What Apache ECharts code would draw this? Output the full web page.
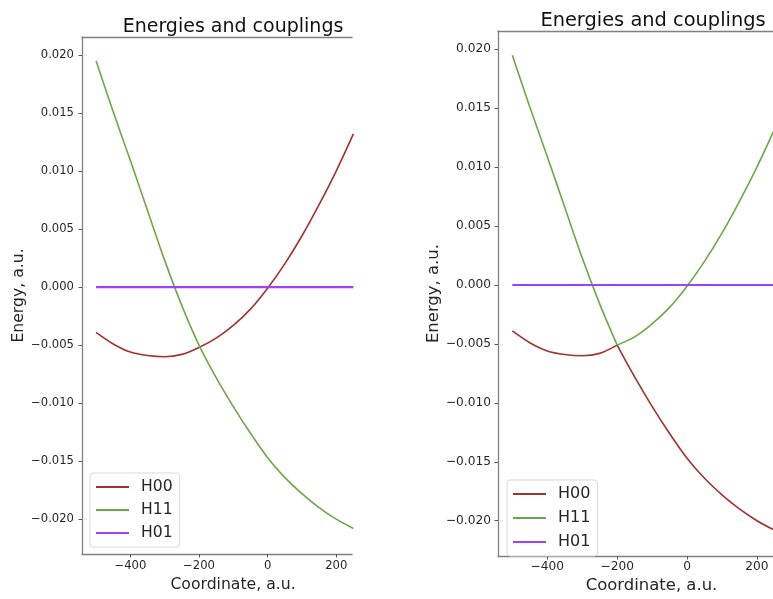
<!DOCTYPE html>
<html>
<head>
<meta charset="utf-8">
<script src="https://cdn.jsdelivr.net/npm/echarts@6/dist/echarts.min.js"></script>
<style>
  html, body { margin: 0; padding: 0; background: #fff; }
  #charts { width: 773px; height: 599px; }
</style>
</head>
<body>
<div id="charts"></div>
<script>
  // coordinate grid, a.u.
  var coords = [-500, -450, -400, -350, -300, -250, -200, -150, -100, -50, 0, 50, 100, 150, 200, 250];

  // left panel: diabatic energies
  var h00Diab = [-0.0039, -0.0049, -0.0056, -0.0059, -0.0060, -0.0058, -0.0052, -0.0044, -0.0033, -0.0019, -0.0001, 0.0020, 0.0044, 0.0071, 0.0100, 0.0132];
  var h11Diab = [0.0195, 0.0151, 0.0109, 0.0066, 0.0023, -0.0016, -0.0050, -0.0078, -0.0103, -0.0126, -0.0147, -0.0164, -0.0178, -0.0190, -0.0200, -0.0208];
  var h01Diab = [0, 0, 0, 0, 0, 0, 0, 0, 0, 0, 0, 0, 0, 0, 0, 0];

  // right panel: adiabatic energies (curves meet at index 6)
  var h00Adi = [-0.0039, -0.0049, -0.0056, -0.0059, -0.0060, -0.0058, -0.0051, -0.0078, -0.0103, -0.0126, -0.0147, -0.0164, -0.0178, -0.0190, -0.0200, -0.0208];
  var h11Adi = [0.0195, 0.0151, 0.0109, 0.0066, 0.0023, -0.0016, -0.0051, -0.0044, -0.0033, -0.0019, -0.0001, 0.0020, 0.0044, 0.0071, 0.0100, 0.0132];
  var h01Adi = [0, 0, 0, 0, 0, 0, 0, 0, 0, 0, 0, 0, 0, 0, 0, 0];
  var kink = 6;

  var names = ['H00', 'H11', 'H01'];
  var xTicks = [-400, -200, 0, 200];
  var yTicks = [-0.020, -0.015, -0.010, -0.005, 0, 0.005, 0.010, 0.015, 0.020];

  var FONT = 'DejaVu Sans';
  var spine = {color: '#808080', width: 1.3};
  var txt = '#262626';
  var colors = {H00: '#a3322c', H11: '#6aaa45', H01: '#a041f5'};

  function minus(s) { return s.charAt(0) === '-' ? '\u2212' + s.slice(1) : s; }
  function fmtX(v) { return minus(String(Math.round(v))); }
  function fmtY(v) { return Math.abs(v) < 1e-9 ? '0.000' : minus(v.toFixed(3)); }

  function pairs(ys, from, to) {
    var out = [];
    for (var i = from; i <= to; i++) out.push([coords[i], ys[i]]);
    return out;
  }

  function bottomAxis(grid, fs, margin, gap) {
    return {
      gridIndex: grid, type: 'value', min: -541, max: 246, position: 'bottom',
      axisLine: {show: true, onZero: false, lineStyle: spine},
      axisTick: {show: true, length: 3.5, customValues: xTicks, lineStyle: {color: '#555', width: 1}},
      axisLabel: {customValues: xTicks, formatter: fmtX, fontSize: fs, fontFamily: FONT, color: txt, margin: margin},
      splitLine: {show: false},
      name: 'Coordinate, a.u.', nameLocation: 'middle', nameGap: gap,
      nameTextStyle: {fontSize: fs * 1.35, fontFamily: FONT, color: txt, padding: [0, 0, 0, 32]}
    };
  }
  function topAxis(grid) {
    return {
      gridIndex: grid, type: 'value', min: -541, max: 246, position: 'top',
      axisLine: {show: true, onZero: false, lineStyle: spine},
      axisTick: {show: false}, axisLabel: {show: false}, splitLine: {show: false}
    };
  }
  function leftAxis(grid, fs, margin, gap) {
    return {
      gridIndex: grid, type: 'value', min: -0.0230, max: 0.02155,
      axisLine: {show: true, onZero: false, lineStyle: spine},
      axisTick: {show: true, length: 3.5, customValues: yTicks, lineStyle: {color: '#555', width: 1}},
      axisLabel: {customValues: yTicks, formatter: fmtY, fontSize: fs, fontFamily: FONT, color: txt, margin: margin},
      splitLine: {show: false},
      name: 'Energy, a.u.', nameLocation: 'middle', nameGap: gap, nameRotate: 90,
      nameTextStyle: {fontSize: fs * 1.35, fontFamily: FONT, color: txt}
    };
  }
  function line(name, ys, xi, yi, from, to) {
    return {
      name: name, type: 'line', xAxisIndex: xi, yAxisIndex: yi,
      data: pairs(ys, from, to), symbol: 'none', smooth: 0.3,
      lineStyle: {color: colors[name], width: name === 'H01' ? 2.2 : 1.6},
      itemStyle: {color: colors[name]},
      animation: false
    };
  }
  function legend(left, top, fs, gap) {
    return {
      orient: 'vertical', left: left, top: top, data: names,
      icon: 'rect', itemWidth: 33, itemHeight: 2, itemGap: gap,
      padding: [6, 7, 6, 6],
      borderColor: '#d9d9d9', borderWidth: 1, borderRadius: 3,
      backgroundColor: 'rgba(255,255,255,0.8)',
      textStyle: {fontSize: fs, fontFamily: FONT, color: txt, lineHeight: 16, padding: [0, 0, 0, 7]}
    };
  }

  var last = coords.length - 1;
  var chart = echarts.init(document.getElementById('charts'));
  chart.setOption({
    backgroundColor: '#fff',
    animation: false,
    textStyle: {fontFamily: FONT},
    grid: [
      {left: 82, top: 37, width: 270, height: 517},
      {left: 498, top: 31, width: 278, height: 532}
    ],
    xAxis: [bottomAxis(0, 11.6, 6, 18), topAxis(0), bottomAxis(1, 12.2, 5, 21), topAxis(1)],
    yAxis: [leftAxis(0, 11.6, 8, 53), leftAxis(1, 12.2, 7, 54)],
    legend: [legend(90, 473, 15.6, 7), legend(507, 480, 16, 8)],
    graphic: [
      {type: 'text', x: 233, y: 27, style: {text: 'Energies and couplings', fontSize: 19, fontFamily: FONT, fill: '#111', align: 'center', verticalAlign: 'middle'}},
      {type: 'text', x: 653, y: 20.5, style: {text: 'Energies and couplings', fontSize: 19.4, fontFamily: FONT, fill: '#111', align: 'center', verticalAlign: 'middle'}}
    ],
    series: [
      line('H00', h00Diab, 0, 0, 0, last),
      line('H11', h11Diab, 0, 0, 0, last),
      line('H01', h01Diab, 0, 0, 0, last),
      line('H00', h00Adi, 2, 1, 0, kink),
      line('H00', h00Adi, 2, 1, kink, last),
      line('H11', h11Adi, 2, 1, 0, kink),
      line('H11', h11Adi, 2, 1, kink, last),
      line('H01', h01Adi, 2, 1, 0, last)
    ]
  });
</script>
</body>
</html>
